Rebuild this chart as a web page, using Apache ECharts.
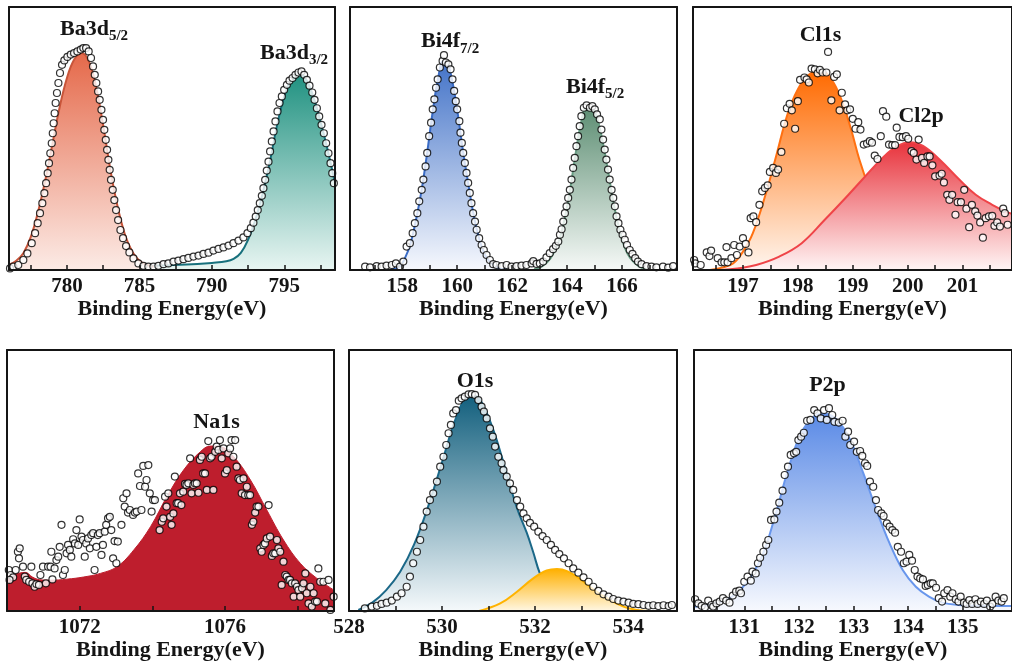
<!DOCTYPE html>
<html><head><meta charset="utf-8">
<script src="https://cdn.jsdelivr.net/npm/echarts@6/dist/echarts.min.js"></script>
<style>html,body{margin:0;padding:0;background:#fff}#c{width:1012px;height:666px}</style>
</head><body><div id="c"></div><script>
// ---------- DATA ----------
const axisTitle = 'Binding Energy(eV)';
// Ba3d
const baLabels = [780, 785, 790, 795];
const baTicks = [777.5, 780, 782.5, 785, 787.5, 790, 792.5, 795, 797.5];
const baPoints = [[776.07,0.6],[776.3,1.3],[776.64,1.9],[776.99,3.8],[777.27,6.3],[777.57,10.2],[777.8,14.0],[777.98,17.8],[778.14,21.6],[778.3,25.4],[778.44,29.2],[778.56,33.0],[778.67,36.8],[778.76,40.6],[778.85,44.4],[778.95,48.2],[779.02,52.0],[779.08,55.8],[779.15,59.6],[779.22,63.5],[779.31,67.3],[779.41,71.1],[779.52,74.9],[779.66,78.0],[779.82,79.7],[780.03,81.0],[780.26,81.9],[780.49,82.5],[780.72,83.1],[780.95,83.8],[781.13,84.4],[781.32,84.4],[781.5,83.1],[781.66,80.6],[781.8,77.4],[781.92,74.2],[782.03,71.1],[782.15,67.9],[782.26,64.7],[782.38,60.9],[782.49,57.1],[782.58,53.3],[782.68,49.5],[782.77,45.7],[782.86,41.9],[782.95,38.1],[783.04,34.3],[783.16,30.5],[783.27,26.6],[783.39,22.8],[783.53,19.0],[783.69,15.2],[783.87,12.1],[784.08,9.1],[784.31,6.7],[784.59,4.4],[784.93,2.5],[785.28,1.6],[785.62,1.3],[785.97,1.3],[786.31,1.6],[786.66,2.2],[787.0,2.5],[787.35,3.2],[787.69,3.6],[788.04,4.1],[788.38,4.6],[788.73,5.1],[789.08,5.5],[789.42,6.1],[789.77,6.6],[790.11,7.4],[790.46,8.0],[790.8,8.6],[791.15,9.3],[791.49,10.2],[791.84,11.2],[792.18,12.4],[792.46,14.0],[792.69,15.9],[792.87,18.0],[793.03,20.3],[793.17,22.8],[793.31,25.4],[793.45,28.2],[793.56,31.1],[793.68,34.3],[793.79,37.8],[793.91,41.2],[794.02,45.1],[794.14,48.9],[794.26,52.7],[794.39,56.5],[794.53,60.3],[794.67,63.5],[794.83,66.0],[794.99,68.5],[795.18,70.4],[795.36,72.0],[795.57,73.0],[795.77,74.2],[795.98,75.1],[796.19,75.5],[796.37,74.2],[796.56,72.3],[796.74,70.1],[796.93,67.5],[797.09,64.7],[797.25,61.5],[797.41,58.4],[797.57,55.2],[797.73,52.0],[797.89,48.2],[798.05,44.4],[798.19,40.6],[798.31,36.8],[798.42,33.0]];
const baFit52 = [[776.0,2.0],[776.5,3.5],[777.0,6.5],[777.5,12.5],[778.0,22],[778.5,34],[779.0,48],[779.5,62],[780.0,73],[780.5,80],[781.0,82.5],[781.5,79.5],[782.0,70],[782.5,55],[783.0,38],[783.5,24],[784.0,13.5],[784.5,7],[785.0,3.5],[785.5,2.0],[786.0,1.3]];
const baFit32 = [[779.5,0.4],[781,0.7],[783,1.0],[785,1.4],[787,1.8],[789,2.3],[790,2.7],[791,3.3],[791.5,4.2],[792,6.5],[792.5,11.5],[793,19],[793.5,29],[794,41],[794.5,55],[795,66],[795.5,72.5],[796,75],[796.5,72.5],[797,66],[797.5,56.5],[798,45.5],[798.5,33]];
// Bi4f
const biLabels = [158, 160, 162, 164, 166];
const biTicks = [157, 158, 159, 160, 161, 162, 163, 164, 165, 166, 167];
const biPoints = [[156.65,1.3],[156.83,1.0],[157.07,1.5],[157.25,1.3],[157.43,1.7],[157.62,1.9],[157.77,2.5],[157.92,1.3],[158.04,3.2],[158.16,8.9],[158.28,10.2],[158.38,14.0],[158.46,17.8],[158.55,21.6],[158.62,26.1],[158.71,30.5],[158.77,34.4],[158.85,39.4],[158.91,44.5],[158.98,50.9],[159.05,56.0],[159.11,61.1],[159.17,64.9],[159.23,69.3],[159.29,72.5],[159.37,77.0],[159.47,79.5],[159.52,81.7],[159.59,78.9],[159.68,78.2],[159.76,76.3],[159.83,72.5],[159.89,68.1],[159.95,64.2],[160.0,61.1],[160.08,56.6],[160.12,52.2],[160.17,48.3],[160.22,44.5],[160.28,40.7],[160.34,36.9],[160.4,33.1],[160.46,29.3],[160.52,25.4],[160.58,21.6],[160.65,18.4],[160.71,15.3],[160.8,12.1],[160.89,9.5],[160.97,7.6],[161.07,5.7],[161.19,3.8],[161.31,2.2],[161.43,1.9],[161.62,1.5],[161.8,1.9],[161.98,1.3],[162.16,1.5],[162.34,1.7],[162.52,1.9],[162.71,2.5],[162.77,3.4],[162.89,2.3],[163.01,2.5],[163.13,3.2],[163.25,4.8],[163.37,6.4],[163.49,7.9],[163.59,9.2],[163.68,10.8],[163.74,13.4],[163.8,15.5],[163.86,18.4],[163.92,21.6],[163.98,24.2],[164.04,27.4],[164.1,30.5],[164.16,34.4],[164.22,38.8],[164.28,42.6],[164.34,47.1],[164.4,50.9],[164.46,54.7],[164.52,58.5],[164.61,61.7],[164.71,62.6],[164.83,61.7],[164.92,62.3],[165.01,61.1],[165.09,59.2],[165.19,57.3],[165.25,53.4],[165.31,49.6],[165.37,45.8],[165.43,42.0],[165.49,38.2],[165.55,34.4],[165.62,30.5],[165.68,27.4],[165.74,24.2],[165.8,20.4],[165.87,17.8],[165.94,15.3],[166.02,13.4],[166.1,11.5],[166.18,9.5],[166.28,7.6],[166.38,6.1],[166.48,4.5],[166.58,3.2],[166.71,2.2],[166.89,1.5],[167.07,1.3],[167.25,1.0],[167.49,1.3],[167.68,0.9],[167.86,1.5]];
const biFit72 = [[157.6,0.3],[157.9,1.2],[158.1,4.5],[158.3,10],[158.5,19],[158.7,30],[158.9,44],[159.1,59.5],[159.3,72.5],[159.5,79.5],[159.65,78.5],[159.8,73],[160.0,61],[160.2,46],[160.4,33],[160.6,21],[160.8,12],[161.0,6],[161.2,3],[161.5,0.8],[161.8,0.2]];
const biFit52 = [[162.8,0.3],[163.1,1.5],[163.4,4.5],[163.7,11],[163.9,19],[164.1,30],[164.3,43.5],[164.5,55.5],[164.7,61.5],[164.9,61.5],[165.1,57.5],[165.3,48.5],[165.5,37],[165.7,25],[165.9,15.5],[166.1,8.5],[166.3,4.5],[166.6,1.5],[166.9,0.4]];
// Cl
const clLabels = [197, 198, 199, 200, 201];
const clTicks = [196.5, 197, 197.5, 198, 198.5, 199, 199.5, 200, 200.5, 201, 201.5];
const clPoints = [[196.11,3.8],[196.13,2.5],[196.23,1.9],[196.34,6.7],[196.39,5.3],[196.42,7.4],[196.54,4.5],[196.61,2.9],[196.66,2.9],[196.7,8.7],[196.72,2.9],[196.79,4.5],[196.84,9.5],[196.89,5.7],[196.94,8.9],[197.0,12.1],[197.05,9.9],[197.1,6.7],[197.14,19.7],[197.19,20.4],[197.24,18.2],[197.3,24.8],[197.35,29.9],[197.4,31.2],[197.45,32.2],[197.49,37.3],[197.55,38.8],[197.6,36.9],[197.64,38.2],[197.7,44.9],[197.75,55.6],[197.8,61.5],[197.85,63.2],[197.89,60.7],[197.95,53.7],[198.0,64.2],[198.04,72.3],[198.12,73.2],[198.16,72.5],[198.2,71.3],[198.25,76.6],[198.31,76.3],[198.36,74.8],[198.4,76.1],[198.45,75.1],[198.52,75.1],[198.55,82.9],[198.61,64.5],[198.66,73.4],[198.71,74.4],[198.76,60.7],[198.8,67.4],[198.86,63],[198.9,60.7],[198.95,61.1],[199.0,57.5],[199.05,53.7],[199.1,56.2],[199.14,53.4],[199.2,47.7],[199.26,48.1],[199.31,49],[199.35,48.4],[199.4,43.5],[199.45,42.2],[199.51,50.9],[199.55,60.4],[199.61,58.3],[199.66,47.7],[199.72,47.5],[199.77,47.5],[199.8,54.1],[199.85,50.6],[199.91,50.5],[199.97,50.9],[200.01,49.9],[200.07,45.2],[200.11,44.5],[200.16,42],[200.2,49.6],[200.26,42.6],[200.3,40.7],[200.36,43.2],[200.4,43.2],[200.45,39.8],[200.5,35.6],[200.58,35.9],[200.62,36.6],[200.66,33.3],[200.72,28.6],[200.76,26.7],[200.81,28.6],[200.87,21],[200.91,25.8],[200.97,25.8],[201.03,30.5],[201.07,23.3],[201.12,16.3],[201.17,24.8],[201.23,22.3],[201.27,20.7],[201.32,18.1],[201.37,12.3],[201.42,19.7],[201.48,20.4],[201.54,20.6],[201.58,16.8],[201.63,18.1],[201.68,16.5],[201.74,23.3],[201.77,21.6],[201.82,17.2]];
const clFit1s = [[196.4,0],[196.6,0.8],[196.82,2.5],[197.0,7],[197.18,14],[197.42,29.3],[197.6,43],[197.84,61],[198.07,71.3],[198.25,75],[198.43,75.7],[198.61,72.5],[198.79,65],[198.97,53.4],[199.12,42],[199.3,31],[199.5,21],[199.7,13],[200.0,6],[200.4,2],[200.8,0.5],[201.2,0]];
const clFit2p = [[196.6,0],[196.9,0.6],[197.24,1.9],[197.66,5.1],[198.07,10.2],[198.49,19.1],[198.85,27],[199.2,35],[199.56,43],[199.8,47],[200.04,48.6],[200.28,47.2],[200.58,42],[200.94,34.4],[201.24,28.6],[201.54,24.8],[201.78,22.3],[201.95,21]];
// Na1s
const naLabels = [1072, 1076];
const naTicks = [1072, 1074, 1076, 1078];
const naPoints = [[1070.05,15.7],[1070.10,13.8],[1070.17,12.9],[1070.07,11.9],[1070.24,15.7],[1070.30,22.7],[1070.35,24.0],[1070.33,20.2],[1070.44,17.0],[1070.49,13.2],[1070.53,11.9],[1070.61,11.2],[1070.67,17.0],[1070.70,10.6],[1070.76,9.3],[1070.81,10.3],[1070.88,10.0],[1070.92,13.8],[1070.99,17.0],[1071.07,10.6],[1071.13,17.0],[1071.20,17.0],[1071.25,12.1],[1071.22,22.7],[1071.31,16.3],[1071.36,19.5],[1071.41,20.8],[1071.45,24.6],[1071.50,33.0],[1071.54,13.8],[1071.59,15.7],[1071.64,22.1],[1071.68,25.3],[1071.73,23.4],[1071.77,20.8],[1071.82,27.5],[1071.87,25.9],[1071.91,31.0],[1071.96,25.3],[1072.00,35.1],[1072.05,28.5],[1072.09,27.2],[1072.14,20.8],[1072.18,25.9],[1072.23,27.8],[1072.28,24.0],[1072.32,29.1],[1072.37,29.8],[1072.41,15.7],[1072.46,24.6],[1072.50,29.1],[1072.55,29.8],[1072.60,21.5],[1072.64,25.3],[1072.69,30.4],[1072.73,33.0],[1072.78,35.5],[1072.83,36.1],[1072.87,31.0],[1072.92,20.2],[1072.96,26.8],[1073.01,18.3],[1073.05,26.6],[1073.15,33.0],[1073.20,43.2],[1073.24,40.0],[1073.29,45.1],[1073.33,37.7],[1073.38,38.7],[1073.47,36.8],[1073.52,37.7],[1073.57,38.1],[1073.61,52.7],[1073.66,47.9],[1073.70,38.7],[1073.75,55.6],[1073.80,47.6],[1073.84,50.2],[1073.89,55.9],[1073.93,45.1],[1073.98,38.1],[1074.02,42.5],[1074.07,42.5],[1074.20,31.0],[1074.26,34.2],[1074.30,35.5],[1074.35,43.8],[1074.39,40.0],[1074.44,45.1],[1074.49,36.1],[1074.53,33.0],[1074.58,37.4],[1074.62,51.5],[1074.67,41.3],[1074.71,41.3],[1074.76,45.1],[1074.80,40.6],[1074.85,45.7],[1074.90,48.7],[1074.94,48.3],[1074.99,48.9],[1075.04,58.5],[1075.08,45.1],[1075.13,48.3],[1075.17,48.9],[1075.22,48.9],[1075.27,45.3],[1075.31,57.9],[1075.36,59.1],[1075.40,52.7],[1075.45,52.7],[1075.50,46.4],[1075.54,65.1],[1075.59,58.5],[1075.63,59.1],[1075.68,46.4],[1075.73,61.0],[1075.77,63.0],[1075.82,61.7],[1075.86,65.5],[1075.91,58.5],[1075.96,62.3],[1076.00,52.7],[1076.05,54.0],[1076.09,60.4],[1076.14,62.3],[1076.18,65.5],[1076.23,59.1],[1076.28,65.5],[1076.32,55.3],[1076.37,50.8],[1076.41,50.2],[1076.46,45.1],[1076.51,50.8],[1076.55,44.4],[1076.60,47.6],[1076.64,44.4],[1076.69,44.4],[1076.74,33.0],[1076.78,34.2],[1076.83,37.7],[1076.87,40.0],[1076.92,40.0],[1076.97,24.0],[1077.01,22.7],[1077.06,25.3],[1077.10,25.9],[1077.15,27.8],[1077.20,40.6],[1077.24,28.5],[1077.29,21.1],[1077.33,22.1],[1077.38,22.1],[1077.43,27.2],[1077.47,24.0],[1077.52,22.7],[1077.56,10.0],[1077.61,18.9],[1077.66,13.8],[1077.70,13.2],[1077.75,11.9],[1077.79,11.9],[1077.84,10.6],[1077.89,5.5],[1077.93,10.6],[1077.98,9.3],[1078.02,8.0],[1078.07,5.5],[1078.12,8.7],[1078.16,10.6],[1078.21,14.4],[1078.25,6.8],[1078.30,2.9],[1078.35,9.3],[1078.39,1.7],[1078.44,6.8],[1078.48,3.6],[1078.53,3.6],[1078.57,16.3],[1078.62,11.2],[1078.71,11.2],[1078.76,2.9],[1078.85,11.9],[1078.90,0.4],[1078.99,5.5]];
const naFit = [[1070.0,13.2],[1070.25,14.2],[1070.5,14.8],[1070.7,13],[1070.9,12],[1071.2,11.8],[1071.65,12.2],[1072.1,13],[1072.57,14.4],[1073.03,17],[1073.49,23.4],[1073.95,32.3],[1074.4,43.8],[1074.86,54],[1075.32,61],[1075.6,63.2],[1075.87,63],[1076.24,59.1],[1076.7,50.2],[1077.15,38.7],[1077.61,27.2],[1078.07,18.3],[1078.53,12.5],[1079.0,8]];
// O1s
const oLabels = [528, 530, 532, 534];
const oTicks = [529, 530, 531, 532, 533, 534];
const oPoints = [[528.34,1.0],[528.49,1.7],[528.6,2.0],[528.7,2.7],[528.81,3.2],[528.92,4.0],[529.03,5.5],[529.13,6.8],[529.24,9.3],[529.31,13.2],[529.38,18.3],[529.46,22.7],[529.53,27.2],[529.6,32.3],[529.67,38.1],[529.74,42.5],[529.81,45.1],[529.89,49.6],[529.96,55.3],[530.03,59.1],[530.09,63.6],[530.14,68.1],[530.19,71.3],[530.24,75.7],[530.3,77.0],[530.36,80.6],[530.42,81.5],[530.49,82.1],[530.57,83.0],[530.64,83.1],[530.71,82.8],[530.78,80.8],[530.85,78.3],[530.9,76.4],[530.96,73.8],[531.03,70.0],[531.09,66.8],[531.14,63.0],[531.21,59.1],[531.28,56.6],[531.32,54.0],[531.39,51.5],[531.46,48.9],[531.53,46.4],[531.61,42.5],[531.68,40.0],[531.75,37.4],[531.82,35.5],[531.89,33.8],[531.98,32.3],[532.07,30.4],[532.16,28.7],[532.25,27.2],[532.34,25.3],[532.43,23.4],[532.52,21.8],[532.62,20.2],[532.72,18.3],[532.82,16.3],[532.93,14.7],[533.04,12.9],[533.15,11.2],[533.25,9.3],[533.36,7.7],[533.47,6.4],[533.58,5.5],[533.68,4.6],[533.79,4.0],[533.9,3.6],[534.01,3.2],[534.11,2.7],[534.22,2.6],[534.33,2.3],[534.44,2.0],[534.54,2.2],[534.65,1.9],[534.76,2.2],[534.87,1.9],[534.94,2.3]];
const oFitMain = [[528.2,0.4],[528.5,3.2],[528.8,8],[529.1,15],[529.4,25.5],[529.7,40],[530.0,57],[530.3,74],[530.55,82],[530.7,82.5],[530.85,80],[531.1,69.5],[531.35,55],[531.6,40],[531.82,30],[531.96,22.5],[532.1,14.5],[532.3,7],[532.6,2.5],[533.0,0.7],[533.5,0]];
const oFitSide = [[530.8,0],[531.25,2.9],[531.61,7.4],[531.96,12.5],[532.25,15.5],[532.47,16.1],[532.7,15.2],[532.95,12.5],[533.18,9.3],[533.54,4.9],[533.9,1.7],[534.2,0.4],[534.5,0]];
// P2p
const pLabels = [131, 132, 133, 134, 135];
const pTicks = [130.5, 131, 131.5, 132, 132.5, 133, 133.5, 134, 134.5, 135, 135.5];
const pPoints = [[130.1,4.5],[130.16,2.9],[130.22,2.0],[130.28,1.4],[130.34,4.0],[130.4,2.3],[130.43,1.7],[130.49,2.9],[130.55,3.6],[130.61,4.9],[130.67,4.0],[130.73,3.2],[130.79,5.9],[130.85,7.4],[130.91,7.8],[130.94,6.8],[131.0,11.2],[131.06,13.2],[131.12,11.6],[131.15,15.1],[131.21,14.4],[131.25,18.3],[131.29,20.4],[131.35,22.7],[131.4,25.3],[131.44,27.2],[131.49,34.9],[131.55,35.1],[131.59,38.1],[131.64,41.5],[131.7,46.1],[131.74,52.1],[131.8,55.3],[131.85,59.8],[131.91,60.4],[131.95,61.0],[131.99,65.5],[132.04,66.8],[132.09,68.3],[132.15,72.9],[132.21,73.2],[132.28,77.0],[132.34,75.7],[132.4,73.8],[132.46,77.0],[132.51,73.2],[132.55,77.7],[132.61,75.1],[132.65,72.5],[132.73,72.2],[132.8,72.9],[132.85,66.8],[132.9,68.7],[132.94,63.6],[133.01,64.9],[133.06,61.0],[133.12,61.3],[133.16,59.4],[133.21,56.6],[133.25,55.6],[133.3,49.6],[133.36,47.6],[133.41,42.5],[133.45,38.7],[133.51,37.4],[133.55,36.4],[133.61,33.6],[133.66,32.3],[133.71,31.0],[133.76,30.0],[133.81,24.6],[133.87,22.7],[133.92,18.3],[133.97,18.9],[134.02,21.5],[134.07,19.3],[134.12,15.7],[134.17,13.2],[134.22,12.5],[134.27,12.1],[134.32,9.6],[134.36,10.0],[134.41,10.6],[134.45,10.6],[134.51,8.9],[134.56,4.9],[134.62,3.6],[134.66,6.8],[134.72,8.0],[134.77,5.5],[134.81,6.8],[134.87,4.5],[134.92,3.6],[134.96,5.5],[135.02,3.2],[135.07,2.7],[135.12,4.2],[135.17,2.7],[135.23,4.5],[135.27,2.7],[135.33,3.6],[135.39,2.7],[135.44,4.0],[135.5,1.7],[135.54,2.7],[135.6,5.5],[135.65,4.0],[135.71,3.6],[135.75,4.9]];
const pFit = [[130.08,1.6],[130.4,2.6],[130.73,4.9],[131.03,10.6],[131.32,20.8],[131.56,36.1],[131.8,54],[132.04,68.1],[132.28,74.5],[132.46,75.7],[132.7,73.2],[132.94,65.5],[133.18,52.7],[133.42,38.7],[133.66,25.9],[133.9,15.7],[134.14,9.3],[134.38,5.5],[134.62,3.2],[134.92,2.3],[135.4,2.0],[135.95,1.9]];

// ---------- LAYOUT ----------
const FONT = '"Liberation Serif", "Times New Roman", serif';
const INK = '#151515';
const grids = [
  {left: 9,   top: 7,   width: 326, height: 263},
  {left: 350, top: 7,   width: 327, height: 263},
  {left: 693, top: 7,   width: 324, height: 263},
  {left: 7,   top: 350, width: 327, height: 261},
  {left: 349, top: 350, width: 328, height: 261},
  {left: 694, top: 350, width: 324, height: 261}
];
const ranges = [[776, 798.5], [156.1, 168], [196.09, 201.9], [1070, 1079], [528, 535.05], [130.08, 135.9]];
const labelSets = [baLabels, biLabels, clLabels, naLabels, oLabels, pLabels];
const tickSets = [baTicks, biTicks, clTicks, naTicks, oTicks, pTicks];

const line = {color: INK, width: 2};
const xAxes = [], yAxes = [];
grids.forEach((g, i) => {
  xAxes.push({
    type: 'value', gridIndex: i, position: 'bottom', min: ranges[i][0], max: ranges[i][1], z: 6,
    axisLine: {show: true, onZero: false, lineStyle: line},
    axisTick: {show: true, inside: true, length: 5, lineStyle: {color: INK, width: 1.5}, customValues: tickSets[i]},
    axisLabel: {customValues: labelSets[i], margin: 6, color: INK, fontFamily: FONT, fontWeight: 'bold', fontSize: 21, formatter: v => String(v)},
    splitLine: {show: false},
    name: axisTitle, nameLocation: 'middle', nameGap: 27,
    nameTextStyle: {color: INK, fontFamily: FONT, fontWeight: 'bold', fontSize: 22}
  });
  xAxes.push({
    type: 'value', gridIndex: i, position: 'top', min: ranges[i][0], max: ranges[i][1], z: 6,
    axisLine: {show: true, onZero: false, lineStyle: line},
    axisTick: {show: false}, axisLabel: {show: false}, splitLine: {show: false}
  });
  ['left', 'right'].forEach(pos => yAxes.push({
    type: 'value', gridIndex: i, position: pos, min: 0, max: 100, z: 6,
    axisLine: {show: true, onZero: false, lineStyle: line},
    axisTick: {show: false}, axisLabel: {show: false}, splitLine: {show: false}
  }));
});

function grad(top, bottom) {
  return new echarts.graphic.LinearGradient(0, 0, 0, 1, [{offset: 0, color: top}, {offset: 1, color: bottom}]);
}
function fit(i, data, lineColor, top, bottom, z) {
  return {type: 'line', xAxisIndex: 2 * i, yAxisIndex: 2 * i, data, smooth: 0.4, symbol: 'none', silent: true,
    lineStyle: {color: lineColor, width: 2}, areaStyle: {color: grad(top, bottom), opacity: 1}, z};
}
function dots(i, data) {
  return {type: 'scatter', xAxisIndex: 2 * i, yAxisIndex: 2 * i, data, symbol: 'circle', symbolSize: 7, z: 4,
    itemStyle: {color: '#ffffff', borderColor: '#000000', borderWidth: 1.2}};
}

const series = [
  fit(0, baFit32, '#17707c', '#1f9180', '#e8f5f2', 2),
  fit(0, baFit52, '#c8553a', '#e5694a', '#fcebe6', 3),
  dots(0, baPoints),
  fit(1, biFit72, '#3a6cc6', '#4373c8', '#f6f8fd', 2),
  fit(1, biFit52, '#6a9e85', '#5e8f74', '#f6f9f7', 2),
  dots(1, biPoints),
  fit(2, clFit1s, '#ff7011', '#ff6a00', '#fff6ef', 2),
  fit(2, clFit2p, '#ef4448', '#e8333c', '#fff5f5', 3),
  dots(2, clPoints),
  {type: 'line', xAxisIndex: 6, yAxisIndex: 6, data: naFit, smooth: 0.4, symbol: 'none', silent: true,
    lineStyle: {color: '#be1e2d', width: 1}, areaStyle: {color: '#be1e2d', opacity: 1}, z: 2},
  dots(3, naPoints),
  fit(4, oFitMain, '#1b6888', '#13607e', '#f5f9fb', 2),
  fit(4, oFitSide, '#ffb300', '#ffb000', '#fff7e3', 3),
  dots(4, oPoints),
  fit(5, pFit, '#6896ec', '#5a8ae6', '#f7f9fe', 2),
  dots(5, pPoints)
];

// ---------- PEAK LABELS ----------
const meas = document.createElement('canvas').getContext('2d');
function textW(str, size) { meas.font = 'bold ' + size + 'px ' + FONT; return meas.measureText(str).width; }
const texts = [];
function peak(x, cy, main, sub) {
  if (sub) {
    texts.push({type: 'text', z: 100, style: {text: main, x, y: cy, fill: INK, font: 'bold 22px ' + FONT, align: 'left', verticalAlign: 'middle'}});
    texts.push({type: 'text', z: 100, style: {text: sub, x: x + textW(main, 22), y: cy + 7.5, fill: INK, font: 'bold 15px ' + FONT, align: 'left', verticalAlign: 'middle'}});
  } else {
    texts.push({type: 'text', z: 100, style: {text: main, x, y: cy, fill: INK, font: 'bold 22px ' + FONT, align: 'center', verticalAlign: 'middle'}});
  }
}
peak(60, 29, 'Ba3d', '5/2');
peak(260, 53, 'Ba3d', '3/2');
peak(421, 41.5, 'Bi4f', '7/2');
peak(566, 87, 'Bi4f', '5/2');
peak(820.5, 35.5, 'Cl1s');
peak(921, 116, 'Cl2p');
peak(216.5, 422, 'Na1s');
peak(475, 381.5, 'O1s');
peak(827.5, 385, 'P2p');

const chart = echarts.init(document.getElementById('c'), null, {renderer: 'canvas'});
chart.setOption({
  animation: false,
  backgroundColor: '#ffffff',
  grid: grids.map(g => Object.assign({containLabel: false}, g)),
  xAxis: xAxes,
  yAxis: yAxes,
  series,
  graphic: texts
});
</script></body></html>
